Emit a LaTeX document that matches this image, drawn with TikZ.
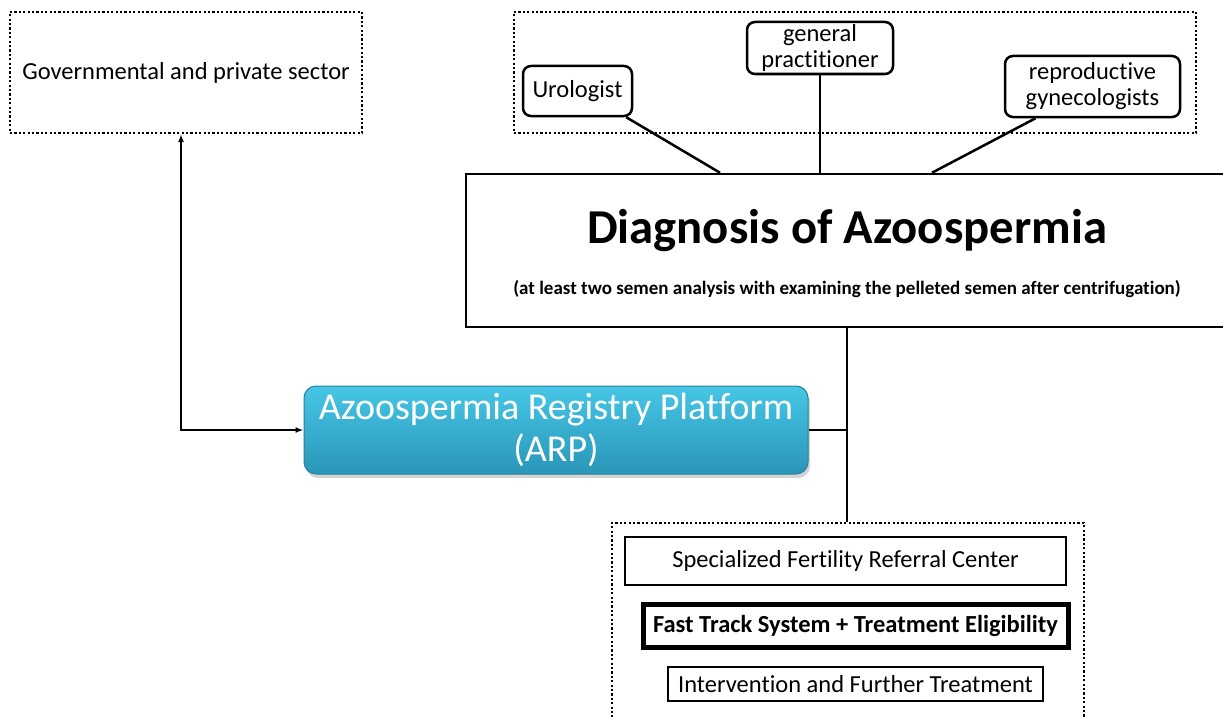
\documentclass[tikz,border=0pt]{standalone}
\usepackage{fontspec}
\setmainfont[Ligatures=NoCommon]{Carlito}
\usetikzlibrary{arrows.meta, positioning, shadows}
\definecolor{arpcyan}{RGB}{70,198,230}
\definecolor{arpteal}{RGB}{42,150,184}
\definecolor{arpedge}{RGB}{38,128,158}
\tikzset{
    groupbox/.style={rectangle, draw=black, line width=2.2pt, dash pattern=on 2.2pt off 2.2pt, inner sep=0pt},
    role/.style={rectangle, rounded corners=8pt, draw=black, line width=2.5pt, fill=white, align=center, inner sep=0pt, font=\fontsize{24.5}{26}\selectfont},
    stage/.style={rectangle, draw=black, fill=white, inner sep=0pt, font=\fontsize{24.5}{26}\selectfont},
    registry/.style={rectangle, rounded corners=12pt, draw=arpedge, line width=1pt, top color=arpcyan, bottom color=arpteal, text=white, align=center, inner sep=0pt, font=\fontsize{38}{42}\selectfont, drop shadow={shadow xshift=2pt, shadow yshift=-4pt, opacity=0.35}},
    link/.style={draw=black, line width=2.5pt},
    arrow/.style={{Latex[length=8pt,width=6pt]}-{Latex[length=8pt,width=6pt]}, line width=2pt},
}
\begin{document}
\begin{tikzpicture}[x=1pt, y=-1pt]
    \useasboundingbox (0,0) rectangle (1223,717);
    % who reports
    \node[groupbox, minimum width=352pt, minimum height=121pt, font=\fontsize{24.5}{26}\selectfont] (gov) at (186,72.5) {Governmental and private sector};
    \node[groupbox, minimum width=682pt, minimum height=121pt] (specialists) at (855,72.5) {};
    \node[role, minimum width=109pt, minimum height=50pt] (urologist) at (577.5,91) {Urologist};
    \node[role, minimum width=146pt, minimum height=52pt] (gp) at (820,48) {general\\practitioner};
    \node[role, minimum width=175pt, minimum height=61pt] (gyneco) at (1092.5,86.5) {reproductive\\gynecologists};
    % diagnosis
    \node[rectangle, draw=black, line width=2.5pt, fill=white, minimum width=762pt, minimum height=153pt] (diag) at (847,250.5) {};
    \node[font=\fontsize{48.7}{52}\selectfont\bfseries] (diagtitle) at ([yshift=19.5pt]diag.center) {Diagnosis of Azoospermia};
    \node[font=\fontsize{19}{22}\selectfont\bfseries] (diagnote) at ([yshift=-38.5pt]diag.center) {(at least two semen analysis with examining the pelleted semen after centrifugation)};
    \draw[link] ([xshift=-7pt]urologist.south east) -- ([xshift=-127pt]diag.north);
    \draw[link] (gp.south) -- (gp.south |- diag.north);
    \draw[link] ([xshift=-57pt]gyneco.south) -- ([xshift=85pt]diag.north);
    % registry
    \node[registry, minimum width=504pt, minimum height=88pt] (arp) at (556,430) {Azoospermia Registry Platform\\(ARP)};
    \draw[arrow] ([xshift=-5pt]gov.south) |- (arp.west);
    % referral centre
    \node[groupbox, minimum width=472pt, minimum height=210pt] (centre) at (848,628) {};
    \node[stage, line width=2pt, minimum width=441pt, minimum height=48pt] (refcentre) at (845.5,561) {Specialized Fertility Referral Center};
    \node[stage, line width=5pt, minimum width=425pt, minimum height=43pt, font=\fontsize{24.5}{26}\selectfont\bfseries] (fasttrack) at (855.5,625.5) {Fast Track System + Treatment Eligibility};
    \node[stage, line width=2.5pt, minimum width=375pt, minimum height=34pt] (intervention) at (855.5,684) {Intervention and Further Treatment};
    \draw[link] (diag.south) -- (diag.south |- centre.north);
    \draw[link] (arp.east) -- (arp.east -| diag.south);
\end{tikzpicture}
\end{document}
